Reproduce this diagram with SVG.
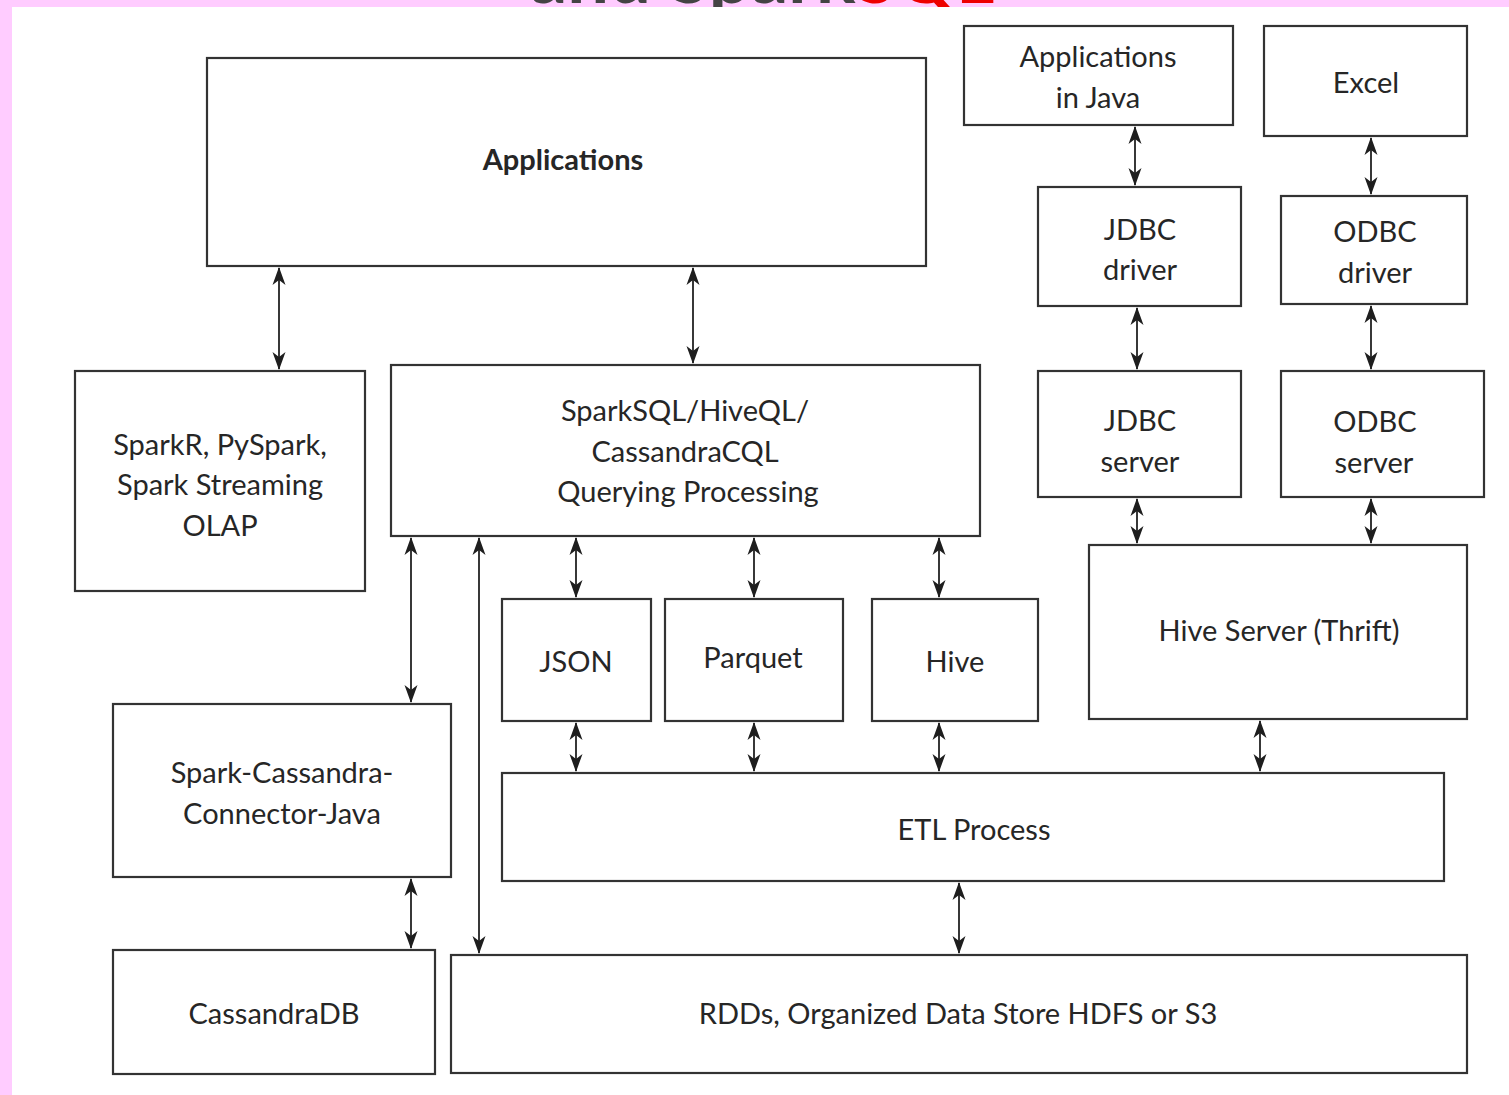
<svg xmlns="http://www.w3.org/2000/svg" width="1509" height="1095" viewBox="0 0 1509 1095">
<style>
.box{fill:#fff;stroke:#333;stroke-width:2.2}
.t{font-family:Lato,"Liberation Sans",sans-serif;font-size:29px;fill:#262626;text-anchor:middle}
.b{font-weight:bold}
.c{stroke:#222;stroke-width:1.8;fill:none;marker-start:url(#ah);marker-end:url(#ah)}
</style>
<defs>
<marker id="ah" viewBox="0 0 18 14" refX="17" refY="7" markerWidth="18" markerHeight="14" markerUnits="userSpaceOnUse" orient="auto-start-reverse">
<path d="M0,0.5 L18,7 L0,13.5 L5,7 Z" fill="#1e1e1e"/>
</marker>
<clipPath id="topclip"><rect x="0" y="0" width="1509" height="7"/></clipPath>
</defs>
<rect x="0" y="0" width="1509" height="1095" fill="#ffccff"/>
<rect x="12" y="7" width="1497" height="1088" fill="#fff"/>
<g clip-path="url(#topclip)">
<text x="762" y="3" font-family="Lato,'Liberation Sans',sans-serif" font-size="74" font-weight="bold" fill="#444" text-anchor="middle">and Spark<tspan fill="#ee0000">SQL</tspan></text>
</g>

<g id="connectors">
<line class="c" x1="279" y1="268" x2="279" y2="369"/>
<line class="c" x1="693" y1="268" x2="693" y2="363"/>
<line class="c" x1="1135" y1="127" x2="1135" y2="185"/>
<line class="c" x1="1371" y1="138" x2="1371" y2="194"/>
<line class="c" x1="1137" y1="308" x2="1137" y2="369"/>
<line class="c" x1="1371" y1="306" x2="1371" y2="369"/>
<line class="c" x1="1137" y1="499" x2="1137" y2="543"/>
<line class="c" x1="1371" y1="499" x2="1371" y2="543"/>
<line class="c" x1="411" y1="538" x2="411" y2="702"/>
<line class="c" x1="479" y1="538" x2="479" y2="953"/>
<line class="c" x1="576" y1="538" x2="576" y2="597"/>
<line class="c" x1="754" y1="538" x2="754" y2="597"/>
<line class="c" x1="939" y1="538" x2="939" y2="597"/>
<line class="c" x1="576" y1="723" x2="576" y2="771"/>
<line class="c" x1="754" y1="723" x2="754" y2="771"/>
<line class="c" x1="939" y1="723" x2="939" y2="771"/>
<line class="c" x1="1260" y1="721" x2="1260" y2="771"/>
<line class="c" x1="959" y1="883" x2="959" y2="953"/>
<line class="c" x1="411" y1="879" x2="411" y2="948"/>
</g>

<g id="applications"><rect class="box" x="207" y="58" width="719" height="208"/><text class="t b" x="563" y="170">Applications</text></g>
<g id="apps-java"><rect class="box" x="964" y="26" width="269" height="99"/><text class="t" x="1098" y="67">Applications</text><text class="t" x="1098" y="108">in Java</text></g>
<g id="excel"><rect class="box" x="1264" y="26" width="203" height="110"/><text class="t" x="1366" y="93">Excel</text></g>
<g id="jdbc-driver"><rect class="box" x="1038" y="187" width="203" height="119"/><text class="t" x="1140" y="240">JDBC</text><text class="t" x="1140" y="280">driver</text></g>
<g id="odbc-driver"><rect class="box" x="1281" y="196" width="186" height="108"/><text class="t" x="1375" y="242">ODBC</text><text class="t" x="1375" y="283">driver</text></g>
<g id="sparkr"><rect class="box" x="75" y="371" width="290" height="220"/><text class="t" x="220" y="455">SparkR, PySpark,</text><text class="t" x="220" y="495">Spark Streaming</text><text class="t" x="220" y="536">OLAP</text></g>
<g id="sparksql"><rect class="box" x="391" y="365" width="589" height="171"/><text class="t" x="685" y="421">SparkSQL/HiveQL/</text><text class="t" x="685" y="462">CassandraCQL</text><text class="t" x="688" y="502">Querying Processing</text></g>
<g id="jdbc-server"><rect class="box" x="1038" y="371" width="203" height="126"/><text class="t" x="1140" y="431">JDBC</text><text class="t" x="1140" y="472">server</text></g>
<g id="odbc-server"><rect class="box" x="1281" y="371" width="203" height="126"/><text class="t" x="1375" y="432">ODBC</text><text class="t" x="1374" y="473">server</text></g>
<g id="json"><rect class="box" x="502" y="599" width="149" height="122"/><text class="t" x="576" y="672">JSON</text></g>
<g id="parquet"><rect class="box" x="665" y="599" width="178" height="122"/><text class="t" x="753" y="668">Parquet</text></g>
<g id="hive"><rect class="box" x="872" y="599" width="166" height="122"/><text class="t" x="955" y="672">Hive</text></g>
<g id="hive-server"><rect class="box" x="1089" y="545" width="378" height="174"/><text class="t" x="1279" y="641">Hive Server (Thrift)</text></g>
<g id="connector-java"><rect class="box" x="113" y="704" width="338" height="173"/><text class="t" x="282" y="783">Spark-Cassandra-</text><text class="t" x="282" y="824">Connector-Java</text></g>
<g id="etl"><rect class="box" x="502" y="773" width="942" height="108"/><text class="t" x="974" y="840">ETL Process</text></g>
<g id="cassandradb"><rect class="box" x="113" y="950" width="322" height="124"/><text class="t" x="274" y="1024">CassandraDB</text></g>
<g id="rdds"><rect class="box" x="451" y="955" width="1016" height="118"/><text class="t" x="958" y="1024">RDDs, Organized Data Store HDFS or S3</text></g>
</svg>
